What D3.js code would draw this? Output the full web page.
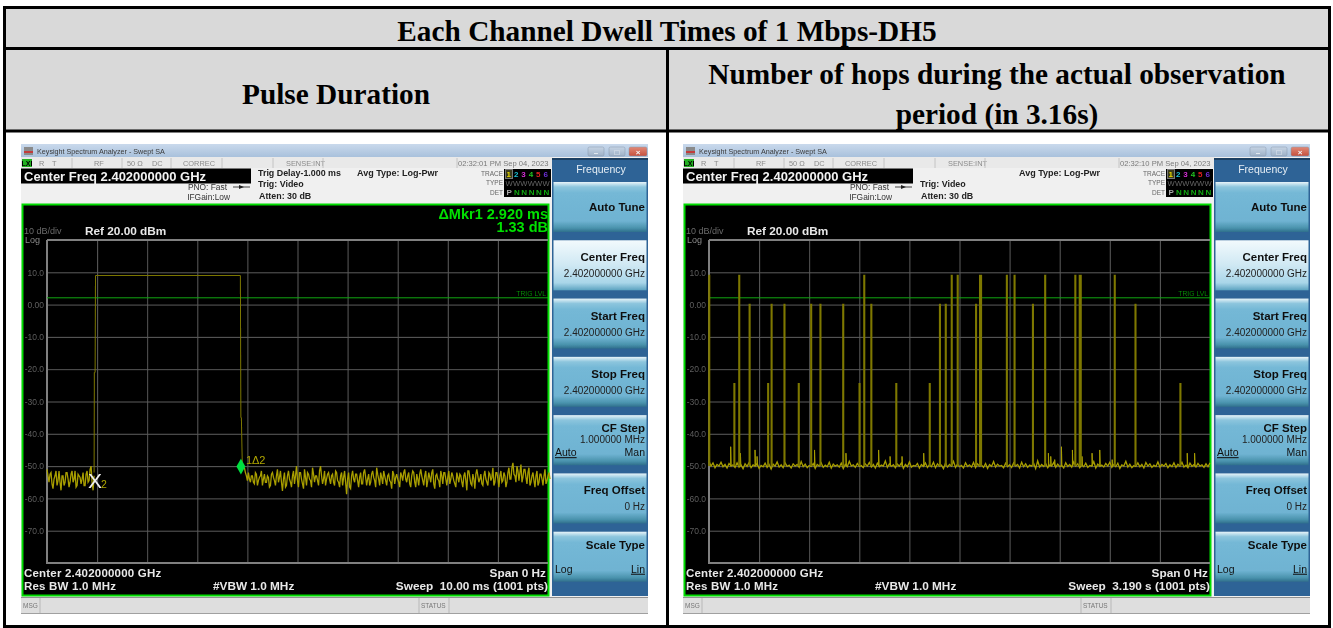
<!DOCTYPE html>
<html>
<head>
<meta charset="utf-8">
<title>Each Channel Dwell Times of 1 Mbps-DH5</title>
<script src="https://cdn.jsdelivr.net/npm/d3@7"></script>
<style>
  html, body { margin: 0; padding: 0; background: #fff; }
  svg { display: block; font-family: "Liberation Sans", Arial, sans-serif; }
  .grid line { stroke: #5c5c5c; stroke-width: 1; }
  .grid path { display: none; }
</style>
</head>
<body>
<svg id="chart" width="1333" height="628"></svg>
<script>
const title = "Each Channel Dwell Times of 1 Mbps-DH5"
const leftHeading = ["Pulse Duration"]
const rightHeading = ["Number of hops during the actual observation", "period (in 3.16s)"]

const levelTicks = [10, 0, -10, -20, -30, -40, -50, -60, -70]
const levelLabels = ["10.0", "0.00", "-10.0", "-20.0", "-30.0", "-40.0", "-50.0", "-60.0", "-70.0"]
const softkeys = ["Auto Tune", "Center Freq", "Start Freq", "Stop Freq", "CF Step", "Freq Offset", "Scale Type"]
const softkeyValues = ["", "2.402000000 GHz", "2.402000000 GHz", "2.402000000 GHz", "1.000000 MHz", "0 Hz", ""]

// left sweep, 10 ms : values in dBm, one every 0.04 ms,
// the B arrays are the points that fall in between
const noiseBefore = [-51, -55, -52, -57, -53, -56, -51.5, -57.5, -53, -55, -52, -56.5, -52.5, -55, -51.5, -56, -53, -55.5, -52, -56, -51.5, -54.5, -50, -57.5]
const noiseBeforeB = [-53, -52.5, -55.5, -54, -51.5, -54.5, -55, -53, -56, -52, -54, -55, -51.5, -54, -56.5, -52.5, -53.5, -54, -56, -52.5, -55, -51, -55, -53]
const noiseAfter = [
  -50.5, -53, -52, -55, -53, -55.5, -52.5, -54.5, -53, -56, -52.5, -55, -53.5, -56, -52, -54.5, -53, -55, -51.5, -57.7,
  -52, -56, -51.5, -55, -53, -55.5, -50, -56.5, -52, -55.5, -51, -56, -52.5, -54.5, -50.5, -55, -53, -56, -50, -55.5,
  -51.5, -54, -52, -55.5, -52.5, -56, -52, -55, -53, -56, -51.5, -58.7, -52, -57, -51.5, -55, -52.5, -56.5, -52, -55.5,
  -51, -56, -52.5, -55, -51.5, -54.5, -50.5, -54, -52, -55.5, -53, -56, -52.5, -55, -51.5, -55.5, -52.5, -55, -52, -54.5,
  -51, -55, -52, -56.5, -51.5, -55, -52.5, -56, -51, -54.5, -53, -56.5, -52, -55, -51, -57, -52.5, -54.5, -51.5, -55.5,
  -52, -56, -51.5, -54, -53, -55.5, -52, -55, -53, -56.5, -52, -57.5, -51.5, -55.5, -52.5, -57, -51, -55, -52.5, -56,
  -51.5, -55, -52, -54.5, -50.5, -55, -52, -56.5, -51.5, -54.5, -53, -55, -50.5, -54, -49, -53, -50, -54.5, -49.5, -53.5,
  -51, -55.5, -50.5, -55, -52, -56.5, -51.5, -55, -52.5, -56, -51, -54.5, -52
]
const noiseAfterB = [
  -52, -54.5, -54, -53, -55, -52, -56, -53.5, -51.5, -54, -55, -53, -56.5, -52.5, -53.5, -56, -51, -53.5, -55, -54,
  -56.5, -53, -54, -56.5, -51.5, -53, -54.5, -52, -54, -57, -53.5, -52, -54, -56.5, -52.5, -53, -54.5, -51.5, -53, -54,
  -56, -52.5, -54, -53, -55, -51.5, -54.5, -56.5, -52, -53.5, -55, -54, -56.5, -53, -54, -52.5, -54.5, -53.5, -55.5, -52,
  -53.5, -54, -56, -52.5, -53.5, -56.5, -52.5, -56, -53.5, -51.5, -54.5, -53, -54.5, -57, -52.5, -53.5, -54, -56.5, -53, -52,
  -54, -53, -55.5, -53, -52, -56.5, -54, -52.5, -53, -56, -51.5, -54.5, -53.5, -52, -55.5, -53, -54, -56.5, -53, -52,
  -54, -53.5, -55.5, -52, -54.5, -56.5, -53.5, -52.5, -55, -53, -54.5, -51.5, -53.5, -56, -54, -52.5, -53, -54, -55.5, -53,
  -54, -56, -52.5, -53.5, -56, -52, -54, -53, -55, -52, -56.5, -52, -54, -50.5, -52.5, -55, -51.5, -52, -55, -51,
  -53.5, -52, -56, -53, -54.5, -53, -56, -52.5, -54, -53, -55.5, -53, -54
]
const pulseTimes = [0.94, 0.945, 0.96, 0.968, 3.86, 3.87, 3.88, 3.90, 3.94]
const pulseLevels = [-52, -21, -21, 9, 9, -35, -35, -51, -50.5]
const markerDeltaTime = 3.87
const markerDeltaLevel = -50
const markerRefTime = 0.96
const markerRefLevel = -54.4
const trigLevel = 2.1

// right sweep, 3.19 s : where each hop starts, its peak and its width in sweep points
const hopTimes = [0, 0.160, 0.191, 0.257, 0.375, 0.397, 0.479, 0.570, 0.649, 0.708, 0.853, 0.957, 0.987, 1.032, 1.191, 1.404, 1.469, 1.506, 1.544, 1.582, 1.699, 1.724, 1.895, 1.944, 2.061, 2.139, 2.331, 2.359, 2.582, 2.714, 3.000]
const hopPeaks = [9, -24.5, 9, 0, -24.5, 0, 0, -24.5, 0, 0, 0, -24.5, 9, 0, -24.5, -24.5, 0, 0, 9, 9, 0, 9, 9, 9, 0, 9, 9, 9, 9, 0, -24.5]
const hopPoints = [1, 1, 1, 1, 1, 1, 1, 1, 1, 1, 1, 1, 1, 1, 1, 1, 1, 1, 1, 1, 1, 3, 1, 1, 1, 1, 1, 3, 1, 1, 1]
const spurTimes = [0.138, 0.200, 0.293, 0.306, 0.672, 0.872, 1.080, 1.153, 1.229, 1.367, 2.161, 2.176, 2.201, 2.244, 2.314, 2.375, 2.439, 2.488, 2.567, 3.045, 3.092]
const spurPeaks = [-44, -46, -45, -47, -45, -46, -45, -47, -47, -46, -46, -47, -48, -44, -45, -47, -46, -45, -48, -46, -46]
const floorValues = [
  -48.5, -50, -49, -50.5, -49.5, -50, -48.8, -50.2, -49.5, -50.6, -49.2, -50, -49.6, -50.4, -49, -50.3, -49.7, -50.8, -49.3, -50.1,
  -48.9, -50.5, -49.6, -50, -49.2, -50.7, -49.8, -50.2, -49.1, -50.4, -49.5, -50.9, -49.4, -50, -48.7, -50.3, -49.6, -50.5, -49, -50.1,
  -49.7, -50.6, -49.3, -50, -49.5, -50.4, -48.6, -50.2, -49.4, -50.5, -49.8, -50.1, -49.2, -50.7, -49.5, -50, -49, -50.4, -49.7, -50.2,
  -48.8, -50.6, -49.4, -50, -49.6, -50.3, -49.1, -50.8, -49.5, -50.2, -48.5, -50, -49.6, -50.4, -49.2, -50.1, -49.8, -50.5, -49.3, -50,
  -48.9, -50.3, -49.5, -50.6, -49.1, -50.2, -49.7, -50, -48.4, -50.4, -49.3, -50.1, -49.6, -50.5, -49.4, -50, -49, -50.7, -49.5, -50.2,
  -48.7, -50.3, -49.8, -50, -49.2, -50.6, -49.5, -50.1, -49, -50.4, -49.6, -50.2, -48.8, -50.5, -49.3, -50, -49.7, -50.8, -49.1, -50.3,
  -49.5, -50, -48.5, -50.4, -49.4, -50.2, -49.8, -50.6, -49, -50.1, -49.6, -50.3, -48.9, -50.5, -49.3, -50, -49.7, -50.4, -49.2, -50.7,
  -49.5, -50.1, -48.6, -50.3, -49.4, -50, -49.8, -50.5, -49.1, -50.2, -49.6, -50.4, -49, -50, -49.5, -50.6, -48.8, -50.2, -49.3, -50.4,
  -49.7, -50, -49.1, -50.8, -48.4, -50.3, -49.5, -50.1, -49.2, -50.5, -49.7, -50, -48.9, -50.4, -49.4, -50.2, -49.8, -50.6, -49, -50.1,
  -49.5, -50.3, -48.7, -50, -49.3, -50.5, -49.6, -50.2, -49.1, -50.4, -49.8, -50, -48.6, -50.6, -49.4, -50.1, -49.7, -50.3, -49.2, -50,
  -48.8, -50.4, -49.5, -50.2, -49.1, -50.7, -49.6, -50, -48.5, -50.3, -49.4, -50.5, -49.8, -50.1, -49, -50.2, -49.5, -50.6, -48.9, -50,
  -49.3, -50.4, -49.7, -50.1, -48.7, -50.3, -49.5, -50, -49.2, -50.5, -49.6, -50.2, -49, -50.4, -49.4, -50, -48.8, -50.3, -49.7, -50.5,
  -49.1, -50.1, -49.5, -50.3, -49.2, -50, -49.6, -50.4, -49.3, -50.2, -49
]

const svg = d3.select('#chart')
const defs = svg.append('defs')

defs.append('filter').attr('id', 'soft').append('feGaussianBlur').attr('stdDeviation', 0.35)

function gradient (id, stops) {
  const grad = defs.append('linearGradient').attr('id', id).attr('x1', 0).attr('y1', 0).attr('x2', 0).attr('y2', 1)
  stops.forEach(s => grad.append('stop').attr('offset', s[0]).attr('stop-color', s[1]))
}
gradient('keyGrad', [[0, '#e8f4f9'], [0.1, '#8cc5dd'], [0.22, '#74b8d6'], [0.78, '#6fb3d2'], [0.92, '#4a93ad'], [1, '#2f6f8c']])
gradient('keyOnGrad', [[0, '#f2fafd'], [0.5, '#cfe8f3'], [0.85, '#a9d6e9'], [1, '#5ca3c0']])
gradient('titleGrad', [[0, '#c9d9ec'], [1, '#a9c1dc']])
gradient('closeGrad', [[0, '#e08a78'], [1, '#c8503c']])
gradient('btnGrad', [[0, '#c6d4e4'], [1, '#9fb2c8']])

function label (g, text, x, y, size, color, opts) {
  const o = opts || {}
  return g.append('text')
    .text(text)
    .attr('x', x)
    .attr('y', y)
    .attr('font-size', size)
    .attr('fill', color)
    .attr('font-weight', o.weight || 'normal')
    .attr('text-anchor', o.anchor || 'start')
    .attr('letter-spacing', o.spacing || 0)
    .attr('text-decoration', o.deco || 'none')
}

function drawTable () {
  const g = svg.append('g')
  g.append('rect').attr('x', 5).attr('y', 8).attr('width', 1324).attr('height', 40).attr('fill', '#d9d9d9')
  g.append('rect').attr('x', 5).attr('y', 48).attr('width', 1324).attr('height', 83).attr('fill', '#d9d9d9')

  const serif = '"Liberation Serif", "Times New Roman", serif'
  label(g, title, 667, 41, 29.3, '#000', { weight: 'bold', anchor: 'middle' }).attr('font-family', serif)
  label(g, leftHeading[0], 336, 104, 29.3, '#000', { weight: 'bold', anchor: 'middle' }).attr('font-family', serif)
  rightHeading.forEach((t, i) => {
    label(g, t, 997, 84 + i * 40, 29.3, '#000', { weight: 'bold', anchor: 'middle' }).attr('font-family', serif)
  })

  const rule = (x1, y1, x2, y2) => g.append('line').attr('x1', x1).attr('y1', y1).attr('x2', x2).attr('y2', y2).attr('stroke', '#000').attr('stroke-width', 3)
  rule(4.5, 7, 4.5, 627)
  rule(1329.5, 7, 1329.5, 627)
  rule(3, 7.5, 1331, 7.5)
  rule(3, 48.5, 1331, 48.5)
  rule(3, 131, 1331, 131)
  rule(3, 626.5, 1331, 626.5)
  rule(667.5, 48, 667.5, 627)
}

function drawChrome (g, cfg) {
  // window body, title bar, status strip
  g.append('rect').attr('x', 21).attr('y', 144).attr('width', 627).attr('height', 470).attr('fill', '#f0f0f0')
  g.append('rect').attr('x', 21).attr('y', 144).attr('width', 627).attr('height', 13).attr('fill', 'url(#titleGrad)')
  g.append('rect').attr('x', 24).attr('y', 147).attr('width', 9).attr('height', 8).attr('fill', '#8a8a8a')
  g.append('rect').attr('x', 24).attr('y', 151).attr('width', 9).attr('height', 2).attr('fill', '#c23a3a')
  label(g, 'Keysight Spectrum Analyzer - Swept SA', 37, 153.5, 7.2, '#3a3a3a')

  const btns = [[588, 16, 'url(#btnGrad)', '\u2013'], [609, 16, 'url(#btnGrad)', '\u25a1'], [629, 18, 'url(#closeGrad)', '\u00d7']]
  btns.forEach(b => {
    g.append('rect').attr('x', b[0]).attr('y', 147).attr('width', b[1]).attr('height', 9).attr('rx', 1.5).attr('fill', b[2]).attr('stroke', '#8797ab').attr('stroke-width', 0.5)
    label(g, b[3], b[0] + b[1] / 2, 154.5, 8, '#f4f6f8', { anchor: 'middle', weight: 'bold' })
  })

  g.append('rect').attr('x', 21).attr('y', 157).attr('width', 532).attr('height', 11).attr('fill', '#e9e9e9')
  g.append('rect').attr('x', 22).attr('y', 159).attr('width', 10).attr('height', 8).attr('fill', '#22b022')
  label(g, 'LXI', 27, 166, 7, '#000', { anchor: 'middle', weight: 'bold' })
  const status = [['R', 39], ['T', 52], ['RF', 94], ['50 \u03a9', 127], ['DC', 152], ['CORREC', 183], ['SENSE:INT', 286]]
  status.forEach(s => label(g, s[0], s[1], 165.5, 7.4, '#8b8b8b'))
  ;[72, 122, 171, 222, 273, 323, 457].forEach(x => {
    g.append('line').attr('x1', x).attr('y1', 158).attr('x2', x).attr('y2', 168).attr('stroke', '#c4c4c4')
  })
  label(g, cfg.clock, 458, 165.5, 7.6, '#7a7a7a')

  g.append('rect').attr('x', 21).attr('y', 168.5).attr('width', 230).attr('height', 15).attr('fill', '#000')
  label(g, 'Center Freq 2.402000000 GHz', 24, 180.5, 13, '#f2f2f2', { weight: 'bold' })

  label(g, 'PNO: Fast', 227, 190, 8.4, '#333', { anchor: 'end' })
  g.append('line').attr('x1', 233).attr('y1', 187).attr('x2', 250).attr('y2', 187).attr('stroke', '#444')
  g.append('path').attr('d', 'M239,185 l5,2 l-5,2 z').attr('fill', '#222')
  label(g, 'IFGain:Low', 230, 200, 8.4, '#333', { anchor: 'end' })

  if (cfg.trigDelay) label(g, cfg.trigDelay, 258, 175.5, 8.9, '#222', { weight: 'bold' })
  label(g, 'Trig: Video', 258, 187, 8.9, '#222', { weight: 'bold' })
  label(g, 'Atten: 30 dB', 259, 199, 8.9, '#222', { weight: 'bold' })
  label(g, 'Avg Type: Log-Pwr', 357, 176, 9, '#222', { weight: 'bold' })

  // trace box
  g.append('rect').attr('x', 504).attr('y', 169).attr('width', 47).attr('height', 28).attr('fill', '#000')
  label(g, 'TRACE', 503, 176, 6.5, '#666', { anchor: 'end' })
  label(g, 'TYPE', 503, 185, 6.5, '#666', { anchor: 'end' })
  label(g, 'DET', 503, 194.5, 6.5, '#666', { anchor: 'end' })
  const traceColors = ['#e8d800', '#19c3d6', '#d12fd1', '#22c422', '#e02020', '#6a2fd1']
  g.append('rect').attr('x', 505.5).attr('y', 169.5).attr('width', 7).attr('height', 9).attr('fill', '#3a3a1a').attr('stroke', '#777')
  traceColors.forEach((c, i) => {
    label(g, String(i + 1), 506.5 + i * 7.4, 177, 8, c, { weight: 'bold' })
    label(g, 'W', 505.5 + i * 7.4, 186, 7.6, '#666')
    label(g, i === 0 ? 'P' : 'N', 506.5 + i * 7.4, 194.5, 8, i === 0 ? '#aaa' : '#10a810', { weight: 'bold' })
  })

  // status bar under the plot
  g.append('rect').attr('x', 21).attr('y', 597).attr('width', 627).attr('height', 17).attr('fill', '#dedede')
  g.append('line').attr('x1', 21).attr('y1', 597.5).attr('x2', 648).attr('y2', 597.5).attr('stroke', '#909090')
  g.append('line').attr('x1', 21).attr('y1', 613.5).attr('x2', 648).attr('y2', 613.5).attr('stroke', '#a0a0a0')
  g.append('line').attr('x1', 40).attr('y1', 598).attr('x2', 40).attr('y2', 613).attr('stroke', '#b8b8b8')
  g.append('line').attr('x1', 419).attr('y1', 598).attr('x2', 419).attr('y2', 613).attr('stroke', '#b8b8b8')
  g.append('line').attr('x1', 449).attr('y1', 598).attr('x2', 449).attr('y2', 613).attr('stroke', '#b8b8b8')
  label(g, 'MSG', 23, 608, 6.5, '#777')
  label(g, 'STATUS', 421, 608, 6.5, '#777')
}

function drawSoftkeys (g) {
  g.append('rect').attr('x', 552).attr('y', 158).attr('width', 96).attr('height', 438).attr('fill', '#2f6496')
  g.append('rect').attr('x', 552).attr('y', 158).attr('width', 96).attr('height', 2).attr('fill', '#1d3f63')
  label(g, 'Frequency', 601, 173, 10.5, '#e6eef5', { anchor: 'middle' })

  const band = d3.scaleBand().domain(softkeys).range([182, 590])
  softkeys.forEach((name, i) => {
    const y = band(name)
    g.append('rect').attr('x', 553.5).attr('y', y).attr('width', 93).attr('height', 50)
      .attr('fill', name === 'Center Freq' ? 'url(#keyOnGrad)' : 'url(#keyGrad)')
    const hasValue = softkeyValues[i] !== ''
    const isStep = name === 'CF Step'
    const nameY = name === 'Auto Tune' ? y + 29 : name === 'Scale Type' ? y + 17 : isStep ? y + 17 : y + 21
    label(g, name, 645, nameY, 11.5, '#111', { weight: 'bold', anchor: 'end' })
    if (hasValue) label(g, softkeyValues[i], 645, isStep ? y + 28 : y + 37, 10, '#222', { anchor: 'end' })
    if (isStep) {
      label(g, 'Auto', 555, y + 41, 10.5, '#111', { deco: 'underline' })
      label(g, 'Man', 645, y + 41, 10.5, '#111', { anchor: 'end' })
    }
    if (name === 'Scale Type') {
      label(g, 'Log', 555, y + 41, 10.5, '#111')
      label(g, 'Lin', 645, y + 41, 10.5, '#111', { anchor: 'end', deco: 'underline' })
    }
  })
}

function drawPlot (g, cfg) {
  g.append('rect').attr('x', 22.5).attr('y', 204.5).attr('width', 526).attr('height', 391)
    .attr('fill', '#000').attr('stroke', '#00dc00').attr('stroke-width', 2)

  const x = d3.scaleLinear().domain([0, cfg.sweep]).range([47, 548])
  const y = d3.scaleLinear().domain([-80, 20]).range([563, 240])

  g.append('g').attr('class', 'grid')
    .attr('transform', 'translate(0,563)')
    .call(d3.axisBottom(x).tickValues(d3.range(1, 10).map(d => d * cfg.sweep / 10)).tickSize(-323).tickFormat(''))

  const yAxis = g.append('g').attr('class', 'grid')
    .attr('transform', 'translate(47,0)')
    .call(d3.axisLeft(y).tickValues(levelTicks).tickSize(-501).tickFormat((d, i) => levelLabels[i]))
  yAxis.selectAll('.tick text')
    .attr('x', -3)
    .attr('fill', '#5e5e5e')
    .attr('font-size', 8.5)
    .attr('font-family', '"Liberation Sans", Arial, sans-serif')

  g.append('path').attr('d', 'M47,240 H548 M47,240 V563 H548').attr('fill', 'none').attr('stroke', '#808080').attr('stroke-width', 2)

  label(g, '10 dB/div', 24, 234, 9, '#6a6a6a')
  label(g, 'Log', 25, 243, 9, '#8a8a8a')
  label(g, 'Ref 20.00 dBm', 85, 234.5, 11.8, '#e8e8e8', { weight: 'bold' })
  label(g, 'Center 2.402000000 GHz', 24, 577, 11.5, '#e8e8e8', { weight: 'bold', spacing: 0.2 })
  label(g, 'Res BW 1.0 MHz', 24, 590, 11.5, '#e8e8e8', { weight: 'bold', spacing: 0.2 })
  label(g, '#VBW 1.0 MHz', 213, 590, 11.8, '#e8e8e8', { weight: 'bold' })
  label(g, 'Span 0 Hz', 546, 577, 11.8, '#e8e8e8', { weight: 'bold', anchor: 'end' })
  label(g, cfg.sweepText, 548, 590, 11.8, '#e8e8e8', { weight: 'bold', anchor: 'end' })

  g.append('line').attr('x1', 47).attr('x2', 548).attr('y1', y(trigLevel)).attr('y2', y(trigLevel)).attr('stroke', '#12a812')
  label(g, 'TRIG LVL', 546, y(trigLevel) - 2, 6.8, '#0a8a0a', { anchor: 'end' })

  return { x, y }
}

function drawPulse (g) {
  const { x, y } = drawPlot(g, { sweep: 10, sweepText: 'Sweep\u00a0\u00a010.00 ms (1001 pts)' })
  const line = d3.line().x(d => x(d[0])).y(d => y(d[1]))
  const pulse = pulseTimes.map((t, i) => [t, pulseLevels[i]])

  g.append('path').attr('d', line(pulse)).attr('fill', 'none').attr('stroke', '#7e7800').attr('stroke-width', 1)

  const mergeBefore = noiseBefore.flatMap((v, i) => [[i * 0.04, v], [i * 0.04 + 0.02, noiseBeforeB[i]]])
  const mergeAfter = noiseAfter.flatMap((v, i) => [[3.94 + i * 0.04, v], [3.96 + i * 0.04, noiseAfterB[i]]])
  ;[mergeBefore, mergeAfter].forEach(part => {
    g.append('path').attr('d', line(part)).attr('fill', 'none').attr('stroke', '#a89e00').attr('stroke-width', 1.3)
  })

  const mx = x(markerDeltaTime)
  const my = y(markerDeltaLevel)
  g.append('path').attr('d', d3.symbol(d3.symbolDiamond, 70)())
    .attr('transform', `translate(${mx},${my + 0.5})`).attr('fill', '#00e040')
  label(g, '1\u03942', mx + 5, my - 2, 11, '#b0a600')
  label(g, 'X', x(markerRefTime), y(markerRefLevel) + 8, 21, '#f0f0f0', { anchor: 'middle' })
  label(g, '2', x(markerRefTime) + 6, y(markerRefLevel) + 8, 10.5, '#b0a600')

  label(g, '\u0394Mkr1 2.920 ms', 548, 218.5, 14.5, '#00e000', { weight: 'bold', anchor: 'end' })
  label(g, '1.33 dB', 548, 232, 14.5, '#00e000', { weight: 'bold', anchor: 'end' })
}

function drawHops (g) {
  const sweep = 3.19
  const { x, y } = drawPlot(g, { sweep, sweepText: 'Sweep\u00a0\u00a03.190 s (1001 pts)' })
  const pointTime = sweep / 1000
  const line = d3.line().x(d => x(d[0])).y(d => y(d[1]))

  const floor = floorValues.map((v, i) => [i * 0.01276, v])
  g.append('path').attr('d', line(floor)).attr('fill', 'none').attr('stroke', '#a89e00').attr('stroke-width', 1.3)

  spurTimes.forEach((t, i) => {
    g.append('path').attr('d', line([[t, -50], [t, spurPeaks[i]], [t + pointTime, -50]]))
      .attr('fill', 'none').attr('stroke', '#a89e00').attr('stroke-width', 1)
  })
  hopTimes.forEach((t, i) => {
    const w = hopPoints[i] * pointTime
    g.append('path').attr('d', line([[t, -50], [t, hopPeaks[i]], [t + w, hopPeaks[i]], [t + w, -50]]))
      .attr('fill', 'none').attr('stroke', '#7e7800').attr('stroke-width', 1.6)
  })
}

drawTable()

const leftWin = svg.append('g').attr('filter', 'url(#soft)')
drawChrome(leftWin, { clock: '02:32:01 PM Sep 04, 2023', trigDelay: 'Trig Delay-1.000 ms' })
drawSoftkeys(leftWin)
drawPulse(leftWin)

const rightWin = svg.append('g').attr('transform', 'translate(662,0)').attr('filter', 'url(#soft)')
drawChrome(rightWin, { clock: '02:32:10 PM Sep 04, 2023', trigDelay: null })
drawSoftkeys(rightWin)
drawHops(rightWin)
</script>
</body>
</html>
